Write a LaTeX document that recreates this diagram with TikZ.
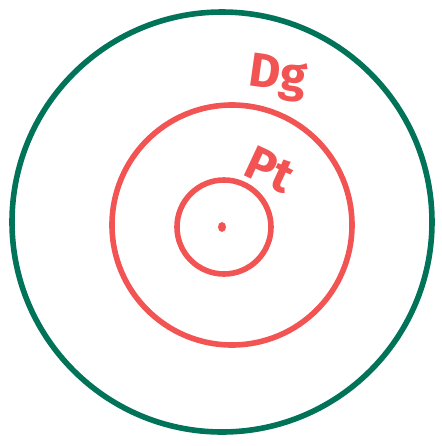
\documentclass[tikz,border=0pt]{standalone}
\usepackage{fontspec}
\setmainfont{Fira Sans}
\usetikzlibrary{shapes.geometric}
\definecolor{ringgreen}{RGB}{0,115,88}
\definecolor{ringred}{RGB}{242,84,84}
\begin{document}
\begin{tikzpicture}[x=0.5pt,y=-0.5pt,line width=2.8pt,
  ring/.style={circle,draw,inner sep=0pt},
  tag/.style={text=ringred,inner sep=0pt,font=\fontsize{24}{24}\selectfont\bfseries}]
\useasboundingbox (0,0) rectangle (441,446);
\node[ring,draw=ringgreen,minimum size=210pt] (outer) at (222,222) {};
\node[ring,draw=ringred,minimum size=120pt] (middle) at (232,225) {};
\node[ring,draw=ringred,minimum size=47pt] (inner) at (224,227) {};
\node[fill=ringred,ellipse,inner sep=0pt,minimum width=4pt,minimum height=5pt] (dot) at (222,227) {};
\node[tag,rotate=-8] (dg) at (278,78) {Dg};
\node[tag,rotate=-25] (pt) at (270,170) {Pt};
\end{tikzpicture}
\end{document}
